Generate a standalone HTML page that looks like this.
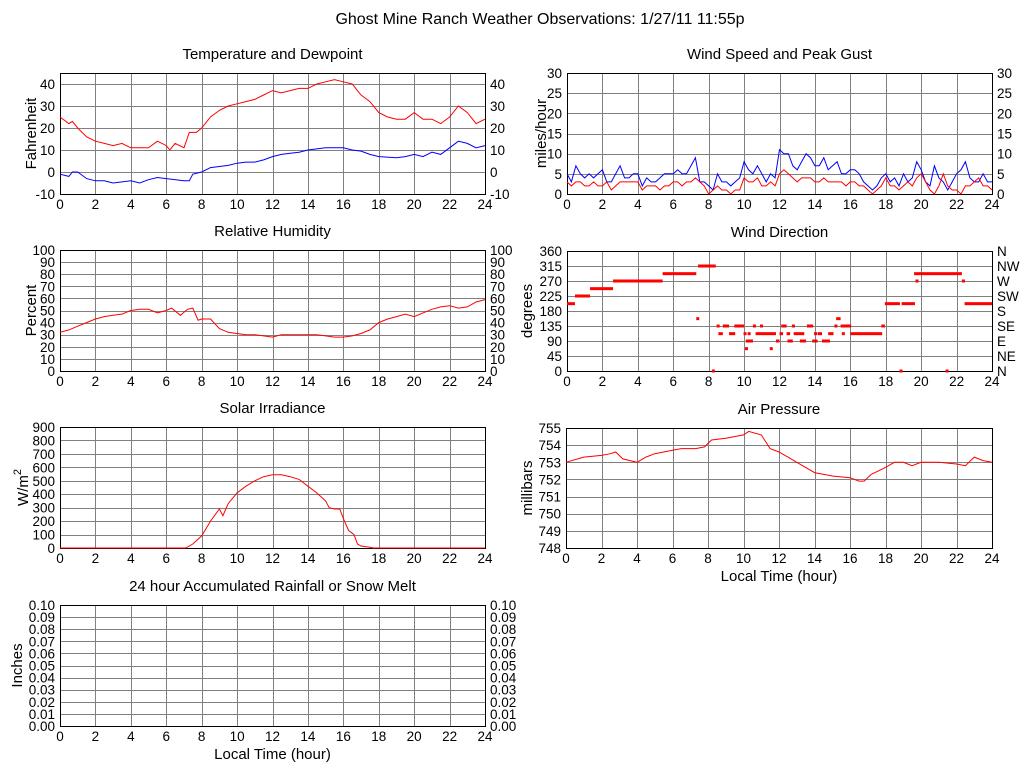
<!DOCTYPE html>
<html><head><meta charset="utf-8"><style>
html,body{margin:0;padding:0;background:#fff;}
svg{display:block;font-family:"Liberation Sans",sans-serif;}
</style></head><body>
<svg id="s" width="1024" height="768" viewBox="0 0 1024 768">
<text x="540" y="24" font-size="16" text-anchor="middle">Ghost Mine Ranch Weather Observations: 1/27/11 11:55p</text>
</svg>
<script>
// ---- data ----
const tempHours=[0,0.5,0.7,1,1.5,2,2.5,3,3.5,4,4.5,5,5.5,6,6.2,6.5,7,7.3,7.7,8,8.5,9,9.5,10,10.5,11,11.5,12,12.5,13,13.5,14,14.5,15,15.5,16,16.5,17,17.5,18,18.5,19,19.5,20,20.5,21,21.5,22,22.5,23,23.5,24];
const tempVals=[25,22,23,20,16,14,13,12,13,11,11,11,14,12,10,13,11,18,18,20,25,28,30,31,32,33,35,37,36,37,38,38,40,41,42,41,40,35,32,27,25,24,24,27,24,24,22,25,30,27,22,24];
const dewHours=[0,0.5,0.7,1,1.5,2,2.5,3,4,4.5,5,5.5,6,7,7.3,7.5,8,8.5,9,9.5,10,10.5,11,11.5,12,12.5,13,13.5,14,14.5,15,16,16.5,17,17.5,18,19,19.5,20,20.5,21,21.5,22,22.5,23,23.5,24];
const dewVals=[-1,-2,0,0,-3,-4,-4,-5,-4,-5,-3.5,-2.5,-3,-4,-4,-1,0,2,2.5,3,4,4.5,4.5,5.5,7,8,8.5,9,10,10.5,11,11,10,9.5,8,7,6.5,7,8,7,9,8,11,14,13,11,12];
const gustVals=[5,3,7,5,4,5,4,5,6,3,3,5,7,4,4,5,5,2,4,3,3,4,5,5,5,6,5,5,7,9,3,3,2,1,5,3,3,2,3,4,8,6,5,7,5,3,5,4,11,10,10,7,6,8,10,9,7,7,9,6,7,8,5,5,6,6,5,3,2,1,2,4,5,3,4,2,5,3,4,8,6,3,2,7,4,3,1,3,5,6,8,4,3,3,5,3,3];
const speedVals=[3,2,3,3,2,2,3,2,2,3,1,2,3,3,3,3,3,1,2,2,2,1,2,2,3,3,2,3,3,4,3,2,0,1,2,1,1,0,1,1,4,3,3,4,2,2,3,2,5,6,5,4,3,4,4,4,3,3,4,3,3,3,3,2,3,3,2,2,1,0,1,2,4,2,2,1,2,3,2,4,5,3,1,0,2,5,2,1,1,0,2,2,3,4,2,2,1];
const rhHours=[0,0.5,1,1.5,2,2.5,3,3.5,4,4.5,5,5.5,6,6.3,6.8,7.2,7.5,7.8,8,8.5,9,9.5,10,10.5,11,11.5,12,12.5,13,13.5,14,14.5,15,15.5,16,16.5,17,17.5,18,18.5,19,19.5,20,20.5,21,21.5,22,22.5,23,23.5,24];
const rhVals=[32,34,37,40,43,45,46,47,50,51,51,48,50,52,46,51,52,42,43,43,35,32,31,30,30,29,28,30,30,30,30,30,29,28,28,29,31,34,40,43,45,47,45,48,51,53,54,52,53,57,59];
const dirStart=[0,0.45,1.3,2.6,5.4,7.3,7.4,8.45,8.8,9.45,10.5,10.9,12.1,12.7,13.55,15.1,15.45,17.75,8.55,9.15,9.97,10.2,10.65,12.0,12.4,12.8,13.95,14.15,14.75,15.52,16.0,10.1,11.8,12.45,13.15,13.85,14.4,10.05,11.45,15.2,17.95,18.9,22.45,19.6,19.68,22.3,8.18,18.78,21.38];
const dirEnd=[0.45,1.3,2.6,5.4,7.3,7.4,8.4,8.6,9.15,10.0,10.65,11.0,12.4,12.75,13.9,15.25,16.05,17.95,8.8,9.5,10.03,10.3,11.8,12.2,12.6,13.4,14.05,14.4,15.05,15.6,17.8,10.5,12.0,12.75,13.5,14.15,14.85,10.15,11.6,15.45,18.8,19.65,24,22.3,19.74,22.4,8.24,18.84,21.44];
const dirVals=[202,225,247,270,292,157,315,135,135,135,135,135,135,135,135,135,135,135,112,112,112,112,112,112,112,112,112,112,112,112,112,90,90,90,90,90,90,67,67,157,202,202,202,292,270,270,0,0,0];
const solarHours=[0,7.1,7.5,8,8.5,9,9.2,9.5,10,10.5,11,11.5,12,12.5,13,13.5,14,14.5,15,15.2,15.5,15.8,16,16.3,16.6,16.8,17,17.5,17.7,24];
const solarVals=[0,0,30,90,200,290,240,330,410,460,500,530,545,545,530,510,460,410,350,300,290,290,220,130,100,30,15,5,0,0];
const presHours=[0,1,2,2.5,2.8,3.2,4,4.5,5,6,6.5,7.3,7.8,8.2,9,10,10.3,11,11.5,12,12.5,13,13.5,14,15,16,16.5,16.8,17.2,17.6,18,18.5,19,19.5,20,21,22,22.5,23,23.5,24];
const presVals=[753.0,753.3,753.4,753.5,753.6,753.2,753.0,753.3,753.5,753.7,753.8,753.8,753.9,754.3,754.4,754.6,754.8,754.6,753.8,753.6,753.3,753.0,752.7,752.4,752.2,752.1,751.9,751.9,752.3,752.5,752.7,753.0,753.0,752.8,753.0,753.0,752.9,752.8,753.3,753.1,753.0];
const xTickLabels=["0","2","4","6","8","10","12","14","16","18","20","22","24"];

const NS="http://www.w3.org/2000/svg";
const svg=document.getElementById('s');
function mk(tag,attrs,parent){const e=document.createElementNS(NS,tag);for(const k in attrs)e.setAttribute(k,attrs[k]);(parent||svg).appendChild(e);return e;}

function panel(o){
  const g=mk('g',{});
  
  
  const L=o.l,T=o.t,W=o.w,H=o.h;
  const sx=h=>L+h/24*W;
  const sy=v=>T+H-(v-o.min)/(o.max-o.min)*H;
  const t=mk('text',{x:L+W/2,y:T-14,'font-size':15,'text-anchor':'middle'},g);t.textContent=o.title;
  
  
  for(let i=1;i<12;i++){const x=Math.round(sx(i*2))+0.5;mk('line',{x1:x,y1:T,x2:x,y2:T+H,stroke:'#808080','stroke-width':1},g);}
  o.ticks.forEach((v,i)=>{const y=sy(v);
    if(y>T+0.5&&y<T+H-0.5){const yy=Math.round(y)+0.5;mk('line',{x1:L,y1:yy,x2:L+W,y2:yy,stroke:'#808080','stroke-width':1},g);}
    const tl=mk('text',{x:L-5,y:y+5,'font-size':13.5,'text-anchor':'end'},g);tl.textContent=o.labels[i];
    
    
    if(o.right){const tr=mk('text',{x:L+W+5,y:y+5,'font-size':13.5},g);tr.textContent=o.right[i];
      
      }
  });
  xTickLabels.forEach((s,i)=>{const tx=mk('text',{x:sx(i*2),y:T+H+15,'font-size':13.5,'text-anchor':'middle'},g);tx.textContent=s;
    
    });
  if(o.xtitle){const xt=mk('text',{x:L+W/2,y:T+H+33,'font-size':15,'text-anchor':'middle'},g);xt.textContent=o.xtitle;
    
    }
  const yt=mk('text',{x:0,y:0,'font-size':15,'text-anchor':'middle',transform:`translate(${o.ytx},${T+H/2}) rotate(-90)`},g);
  
  
  if(o.sup){yt.textContent=o.ytitle;const ts=mk('tspan',{dy:-7,'font-size':11},yt);ts.textContent=o.sup;}
  else yt.textContent=o.ytitle;
  mk('rect',{x:L+0.5,y:T+0.5,width:W,height:H,fill:'none',stroke:'#000','stroke-width':1},g);
  return {g,sx,sy};
}
function line(p,xs,ys,color,name){
  const pts=xs.map((h,i)=>p.sx(h).toFixed(1)+','+p.sy(ys[i]).toFixed(1)).join(' ');
  const pl=mk('polyline',{points:pts,fill:'none',stroke:color,'stroke-width':1},p.g);
  
  
}
function idxHours(arr){return arr.map((_,i)=>i*24/(arr.length-1));}

const num=(a)=>a.map(String);
let tk=[-10,0,10,20,30,40];
let p=panel({name:'temperature-panel',title:'Temperature and Dewpoint',l:60,t:73,w:425,h:121,min:-10,max:45,ticks:tk,labels:num(tk),right:num(tk),ytitle:'Fahrenheit',ytx:36});
line(p,tempHours,tempVals,'#ff0000','temperature-line');
line(p,dewHours,dewVals,'#0000ff','dewpoint-line');

tk=[0,5,10,15,20,25,30];
p=panel({name:'wind-speed-panel',title:'Wind Speed and Peak Gust',l:567,t:73,w:425,h:121,min:0,max:30,ticks:tk,labels:num(tk),right:num(tk),ytitle:'miles/hour',ytx:546});
line(p,idxHours(gustVals),gustVals,'#0000ff','gust-line');
line(p,idxHours(speedVals),speedVals,'#ff0000','wind-speed-line');

tk=[0,10,20,30,40,50,60,70,80,90,100];
p=panel({name:'humidity-panel',title:'Relative Humidity',l:60,t:250,w:425,h:121,min:0,max:100,ticks:tk,labels:num(tk),right:num(tk),ytitle:'Percent',ytx:36});
line(p,rhHours,rhVals,'#ff0000','humidity-line');

tk=[0,45,90,135,180,225,270,315,360];
p=panel({name:'wind-direction-panel',title:'Wind Direction',l:567,t:251,w:425,h:120,min:0,max:360,ticks:tk,labels:num(tk),right:['N','NE','E','SE','S','SW','W','NW','N'],ytitle:'degrees',ytx:532});
dirVals.forEach((d,i)=>{
  const x1=p.sx(dirStart[i]),x2=Math.max(p.sx(dirEnd[i]),x1+3);
  const r=mk('rect',{x:x1,y:p.sy(d)-1.5,width:x2-x1,height:3,fill:'#ff0000'},p.g);
  
  
});

tk=[0,100,200,300,400,500,600,700,800,900];
p=panel({name:'solar-panel',title:'Solar Irradiance',l:60,t:427,w:425,h:121,min:0,max:900,ticks:tk,labels:num(tk),ytitle:'W/m',sup:'2',ytx:28});
line(p,solarHours,solarVals,'#ff0000','solar-line');

tk=[748,749,750,751,752,753,754,755];
p=panel({name:'pressure-panel',title:'Air Pressure',l:566,t:428,w:426,h:120,min:748,max:755,ticks:tk,labels:num(tk),ytitle:'millibars',ytx:532,xtitle:'Local Time (hour)'});
line(p,presHours,presVals,'#ff0000','pressure-line');

tk=[0,0.01,0.02,0.03,0.04,0.05,0.06,0.07,0.08,0.09,0.10];
const rl=tk.map(v=>v.toFixed(2));
p=panel({name:'rainfall-panel',title:'24 hour Accumulated Rainfall or Snow Melt',l:60,t:605,w:425,h:121,min:0,max:0.10,ticks:tk,labels:rl,right:rl,ytitle:'Inches',ytx:22,xtitle:'Local Time (hour)'});
</script>
</body></html>
